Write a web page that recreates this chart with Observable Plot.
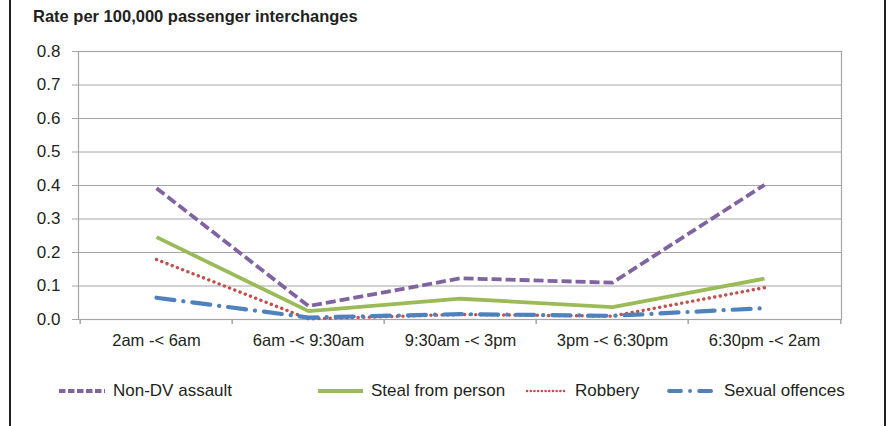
<!DOCTYPE html>
<html><head><meta charset="utf-8">
<script src="https://cdn.jsdelivr.net/npm/d3@7"></script>
<script src="https://cdn.jsdelivr.net/npm/@observablehq/plot@0.6"></script>
<style>
body{margin:0;background:#fff;}
#wrap{position:relative;width:888px;height:426px;overflow:hidden;font-family:"Liberation Sans",Arial,sans-serif;color:#231f20;background:#fff;}
.bl{position:absolute;top:0;bottom:0;width:2px;background:#231f20;}
#title{position:absolute;left:33px;top:7px;font-weight:bold;font-size:16.5px;}
#chart{position:absolute;left:0;top:30px;}
#legend{position:absolute;top:380px;left:0;width:888px;height:22px;}
.item{position:absolute;top:0;height:22px;display:flex;align-items:center;font-size:17px;white-space:nowrap;}
.item svg{margin-right:6px;}
</style></head><body>
<div id="wrap">
  <div class="bl" style="left:9px"></div>
  <div class="bl" style="left:884px"></div>
  <div id="title">Rate per 100,000 passenger interchanges</div>
  <div id="chart"></div>
  <div id="legend"></div>
</div>
<script>
const periods = ["2am -< 6am", "6am -< 9:30am", "9:30am -< 3pm", "3pm -< 6:30pm", "6:30pm -< 2am"];
const seriesNames = ["Non-DV assault", "Steal from person", "Robbery", "Sexual offences"];
const nonDV = [0.392, 0.04, 0.123, 0.11, 0.402];
const steal = [0.246, 0.025, 0.062, 0.037, 0.122];
const robbery = [0.179, 0.002, 0.015, 0.01, 0.095];
const sexual = [0.065, 0.006, 0.016, 0.011, 0.034];
const yTicks = [0, 0.1, 0.2, 0.3, 0.4, 0.5, 0.6, 0.7, 0.8];

const styles = [
  {stroke: "#8064a2", strokeWidth: 3.8, strokeDasharray: "10 4", strokeLinecap: "butt"},
  {stroke: "#9bbb59", strokeWidth: 3.8, strokeDasharray: null, strokeLinecap: "butt"},
  {stroke: "#c0504d", strokeWidth: 3.4, strokeDasharray: "0.1 5.5", strokeLinecap: "round"},
  {stroke: "#4f81bd", strokeWidth: 4.2, strokeDasharray: "18 9 0.1 9", strokeLinecap: "round"}
];
const allSeries = [nonDV, steal, robbery, sexual];

const W = 888, H = 330, mL = 78, mR = 47, mT = 21, mB = 41;
const step = (W - mL - mR) / periods.length;
const grid = "#a6a6a6";

const lineMarks = allSeries.map((vals, k) =>
  Plot.line(vals, {x: (d, i) => periods[i], y: d => d, ...styles[k], strokeLinejoin: "round"})
);

const chart = Plot.plot({
  width: W, height: H,
  marginLeft: mL, marginRight: mR, marginTop: mT, marginBottom: mB,
  style: {fontFamily: "'Liberation Sans', Arial, sans-serif", fontSize: "16px", color: "#231f20", background: "transparent"},
  x: {type: "point", domain: periods, padding: 0.5},
  y: {domain: [0, 0.8]},
  marks: [
    Plot.gridY(yTicks, {stroke: grid, strokeOpacity: 1, strokeWidth: 1}),
    Plot.frame({stroke: grid, strokeWidth: 1.2}),
    Plot.axisY(yTicks, {tickFormat: d3.format(".1f"), tickSize: 6, tickPadding: 12, stroke: grid, fill: "#231f20", label: null, fontSize: 17}),
    Plot.axisX(periods, {tickSize: 0, tickPadding: 15, fill: "#231f20", label: null, fontSize: 16.5}),
    Plot.ruleX(periods, {x: d => d, dx: -step / 2, y1: 0, y2: 0, insetBottom: -5, stroke: grid, strokeWidth: 1.5}),
    Plot.ruleX(periods.slice(-1), {x: d => d, dx: step / 2, y1: 0, y2: 0, insetBottom: -5, stroke: grid, strokeWidth: 1.5}),
    ...lineMarks
  ]
});
document.getElementById("chart").appendChild(chart);

// legend
const legendX = [57, 316, 525, 667];
const swW = [50, 49, 44, 51];
const legend = document.getElementById("legend");
seriesNames.forEach((name, k) => {
  const s = styles[k];
  const item = document.createElement("div");
  item.className = "item";
  item.style.left = legendX[k] + "px";
  const w = swW[k];
  item.innerHTML = `<svg width="${w}" height="10"><line x1="2" x2="${w - 2}" y1="5" y2="5" stroke="${s.stroke}" stroke-width="${k === 2 ? 2.5 : 3.8}" ${s.strokeDasharray ? `stroke-dasharray="${k === 0 ? '6.5 2.5' : k === 3 ? '12 9 0.1 9' : '0.1 3.6'}"` : ""} stroke-linecap="${s.strokeLinecap}"/></svg><span>${name}</span>`;
  legend.appendChild(item);
});
</script>
</body></html>
